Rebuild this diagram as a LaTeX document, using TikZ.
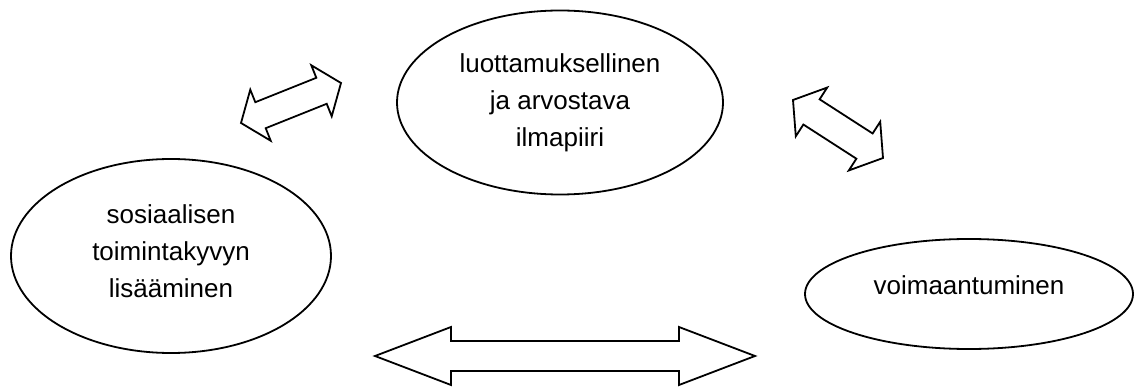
\documentclass[tikz,border=0pt]{standalone}
\usepackage{fontspec}
\setmainfont{Liberation Sans}
\usetikzlibrary{shapes.geometric,calc}

\tikzset{
  bubble/.style={ellipse, draw, line width=1.8pt, inner sep=0pt, align=center,
    font=\fontsize{26}{37}\selectfont},
  blockarrow/.style={draw, line width=1.8pt, fill=white, line join=miter},
}

% Hollow double-headed block arrow between two tip coordinates.
% #1,#2: tips; #3: head length; #4: head half-width; #5: shaft half-width
\newcommand\blockarrow[5]{%
  \draw[blockarrow] (#1)
    -- ($(#1)!#3!(#2)!#4!90:(#2)$)
    -- ($(#1)!#3!(#2)!#5!90:(#2)$)
    -- ($(#2)!#3!(#1)!#5!-90:(#1)$)
    -- ($(#2)!#3!(#1)!#4!-90:(#1)$)
    -- (#2)
    -- ($(#2)!#3!(#1)!#4!90:(#1)$)
    -- ($(#2)!#3!(#1)!#5!90:(#1)$)
    -- ($(#1)!#3!(#2)!#5!-90:(#2)$)
    -- ($(#1)!#3!(#2)!#4!-90:(#2)$)
    -- cycle;}

\begin{document}
\begin{tikzpicture}[x=1pt, y=-1pt]
  \useasboundingbox (0,0) rectangle (1135,390);

  % the three themes
  \node[bubble, minimum width=326pt, minimum height=184pt] (trust) at (560,102.5)
    {luottamuksellinen\\ja arvostava\\ilmapiiri};
  \node[bubble, minimum width=320pt, minimum height=194pt, text depth=10pt] (social) at (171,256)
    {sosiaalisen\\toimintakyvyn\\lisääminen};
  \node[bubble, minimum width=328pt, minimum height=110pt, text depth=18pt] (empower) at (969,294)
    {voimaantuminen};

  % tips of the block arrows between the themes
  \coordinate (ulA) at (241,123);
  \coordinate (ulB) at (341,83);
  \coordinate (urA) at (793,100);
  \coordinate (urB) at (883,158);
  \coordinate (botA) at (375,356);
  \coordinate (botB) at (755,356);

  \blockarrow{ulA}{ulB}{21pt}{27.5pt}{14pt}
  \blockarrow{urA}{urB}{22pt}{29pt}{15pt}
  \blockarrow{botA}{botB}{76pt}{29pt}{15pt}
\end{tikzpicture}
\end{document}
